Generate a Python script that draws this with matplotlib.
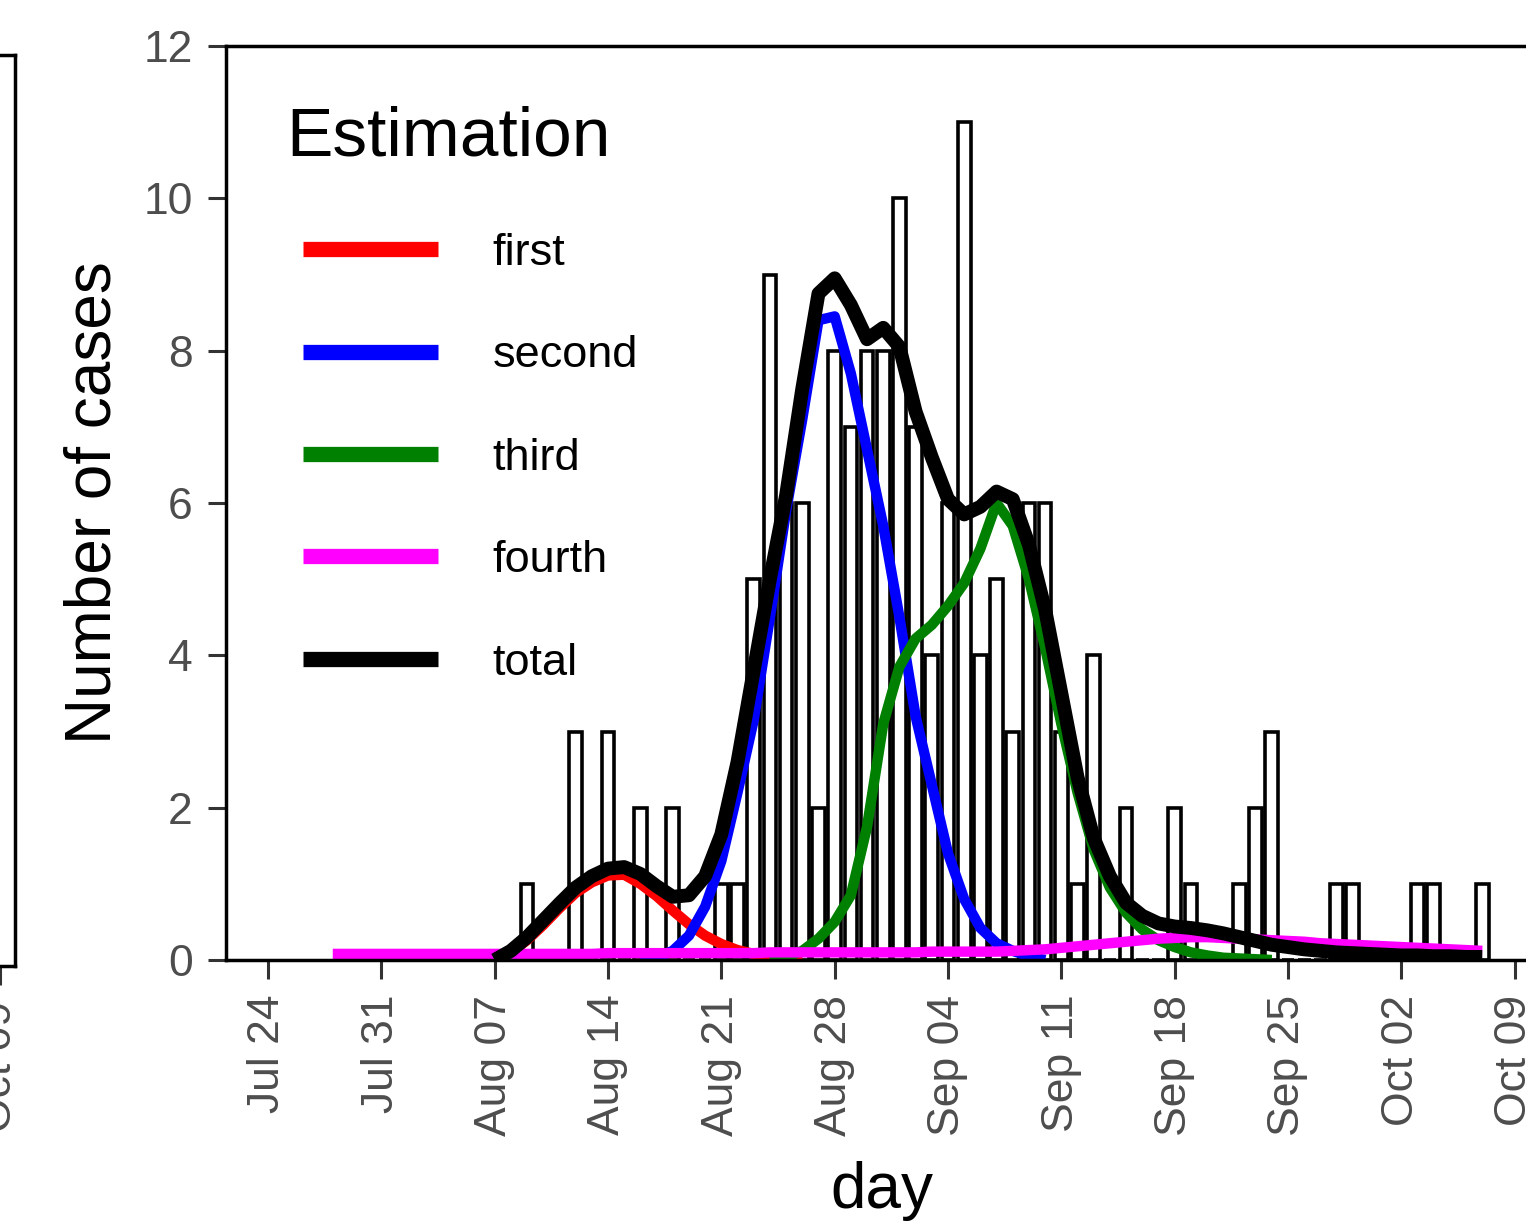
import matplotlib
matplotlib.use('Agg')
import matplotlib.pyplot as plt
import matplotlib.dates as mdates
from matplotlib.lines import Line2D
import pandas as pd

plt.rcParams['font.family'] = ['Liberation Sans', 'DejaVu Sans']

# observed daily cases, Aug 09 .. Oct 07
case_days = pd.date_range('2020-08-09', '2020-10-07')
cases = [1, 0, 0, 3, 0, 3, 0, 2, 0, 2,
         0, 0, 1, 1, 5, 9, 6, 6, 2, 8,
         7, 8, 8, 10, 7, 4, 6, 11, 4, 5,
         3, 6, 6, 3, 1, 4, 0, 2, 0, 0,
         2, 1, 0, 0, 1, 2, 3, 0, 0, 0,
         1, 1, 0, 0, 0, 1, 1, 0, 0, 1]

# estimated curves (one value per day)
first_days = pd.date_range('2020-08-06', '2020-08-26')
first = [0.0, 0.02, 0.1, 0.26, 0.46, 0.68, 0.88, 1.02, 1.11, 1.12,
         1.0, 0.84, 0.65, 0.47, 0.32, 0.21, 0.13, 0.08, 0.04, 0.02, 0.0]

second_days = pd.date_range('2020-08-16', '2020-09-10')
second = [0.0, 0.03, 0.12, 0.32, 0.7, 1.3, 2.2, 3.15, 4.5, 5.9,
          7.1, 8.4, 8.45, 7.7, 6.7, 5.7, 4.5, 3.2, 2.3, 1.4,
          0.8, 0.42, 0.22, 0.12, 0.05, 0.0]

third_days = pd.date_range('2020-08-24', '2020-09-24')
third = [0.0, 0.04, 0.12, 0.28, 0.5, 0.85, 1.75, 3.1, 3.85, 4.22,
         4.4, 4.65, 4.95, 5.4, 6.0, 5.7, 5.0, 4.1, 3.1, 2.2,
         1.45, 0.95, 0.62, 0.4, 0.26, 0.17, 0.1, 0.06, 0.03, 0.02,
         0.01, 0.0]

fourth_days = pd.date_range('2020-07-28', '2020-10-07')
fourth = [0.08, 0.08, 0.08, 0.08, 0.08, 0.08, 0.08, 0.08, 0.08, 0.08,
          0.08, 0.08, 0.08, 0.08, 0.08, 0.08, 0.08, 0.09, 0.09, 0.09,
          0.09, 0.09, 0.09, 0.09, 0.09, 0.09, 0.09, 0.1, 0.1, 0.1,
          0.1, 0.1, 0.1, 0.1, 0.1, 0.1, 0.1, 0.11, 0.11, 0.11,
          0.11, 0.11, 0.12, 0.13, 0.14, 0.16, 0.18, 0.2, 0.22, 0.24,
          0.26, 0.28, 0.29, 0.3, 0.3, 0.29, 0.28, 0.27, 0.26, 0.25,
          0.24, 0.22, 0.21, 0.2, 0.19, 0.18, 0.17, 0.16, 0.15, 0.14,
          0.13, 0.12]

total_days = pd.date_range('2020-08-07', '2020-10-07')
total = [0.0, 0.12, 0.3, 0.52, 0.74, 0.95, 1.1, 1.2, 1.22, 1.13,
         0.97, 0.83, 0.85, 1.1, 1.65, 2.6, 3.8, 5.0, 6.1, 7.5,
         8.75, 8.95, 8.6, 8.15, 8.3, 8.05, 7.2, 6.6, 6.05, 5.85,
         5.95, 6.15, 6.05, 5.45, 4.6, 3.5, 2.4, 1.6, 1.1, 0.75,
         0.58, 0.48, 0.44, 0.42, 0.39, 0.35, 0.3, 0.25, 0.2, 0.17,
         0.14, 0.12, 0.1, 0.09, 0.08, 0.07, 0.06, 0.06, 0.05, 0.05,
         0.04, 0.04]

series_names = ['first', 'second', 'third', 'fourth', 'total']
series_colors = ['#FF0000', '#0000FF', '#008000', '#FF00FF', '#000000']

week_ticks = pd.date_range('2020-07-24', '2020-10-09', freq='7D')

W, H = 1526, 1222
fig = plt.figure(figsize=(W / 100, H / 100), dpi=100)

# main panel (runs past the right edge, like the cropped original)
ax = fig.add_axes([226 / W, 262 / H, (1560 - 226) / W, 914 / H])
t0 = mdates.date2num(pd.Timestamp('2020-07-24'))
ax.set_xlim(t0 - 2.594, t0 + 79.8)
ax.set_ylim(0, 12)

ax.bar(case_days, cases, width=0.78, color='white', edgecolor='black',
       linewidth=2.6, zorder=1)

curves = [(first_days, first), (second_days, second), (third_days, third),
          (fourth_days, fourth), (total_days, total)]
for i, (d, v) in enumerate(curves):
    lw = 10 if series_names[i] == 'total' else 7.5
    ax.plot(d, v, color=series_colors[i], lw=lw, solid_capstyle='butt',
            solid_joinstyle='round', zorder=2 + i * 0.1)

ax.set_xticks(week_ticks)
ax.xaxis.set_major_formatter(mdates.DateFormatter('%b %d'))
ax.set_yticks([0, 2, 4, 6, 8, 10, 12])
for lab in ax.get_xticklabels():
    lab.set_rotation(90)
ax.tick_params(axis='x', length=14, width=2.2, color='#333333',
               labelsize=32, labelcolor='#4D4D4D', pad=11)
ax.tick_params(axis='y', length=13, width=2.2, color='#333333',
               labelsize=32, labelcolor='#4D4D4D', pad=11)
for s in ax.spines.values():
    s.set_linewidth(2.5)

ax.set_xlabel('day', fontsize=46)
ax.xaxis.set_label_coords((882 - 226) / (1560 - 226), -0.22)
ax.set_ylabel('Number of cases', fontsize=46)
ax.yaxis.set_label_coords(-0.077, 0.5)

# legend: title as its own text, entries below it
fig.text(286 / W, 1 - 155 / H, 'Estimation', fontsize=50,
         ha='left', va='baseline')
handles = [Line2D([], [], color=c, lw=11, solid_capstyle='butt')
           for c in series_colors]
ax.legend(handles, series_names, loc='upper left',
          bbox_to_anchor=(303 / W, 1 - 233 / H), bbox_transform=fig.transFigure,
          frameon=False, fontsize=32.5, handlelength=3.0,
          handletextpad=1.2, labelspacing=1.36, borderpad=0, borderaxespad=0)

# edge of the neighbouring panel on the left
ax0 = fig.add_axes([-0.3, 256 / H, 0.3 + 15 / W, 911 / H])
ax0.set_xlim(0, 1)
ax0.set_ylim(0, 1)
ax0.set_xticks([0.3 / (0.3 + 15 / W)])
ax0.set_xticklabels(['Oct 09'], rotation=90)
ax0.set_yticks([])
ax0.tick_params(axis='x', length=14, width=2.2, color='#333333',
                labelsize=32, labelcolor='#4D4D4D', pad=11)
for s in ax0.spines.values():
    s.set_linewidth(2.5)

fig.savefig('out.png', dpi=100)
